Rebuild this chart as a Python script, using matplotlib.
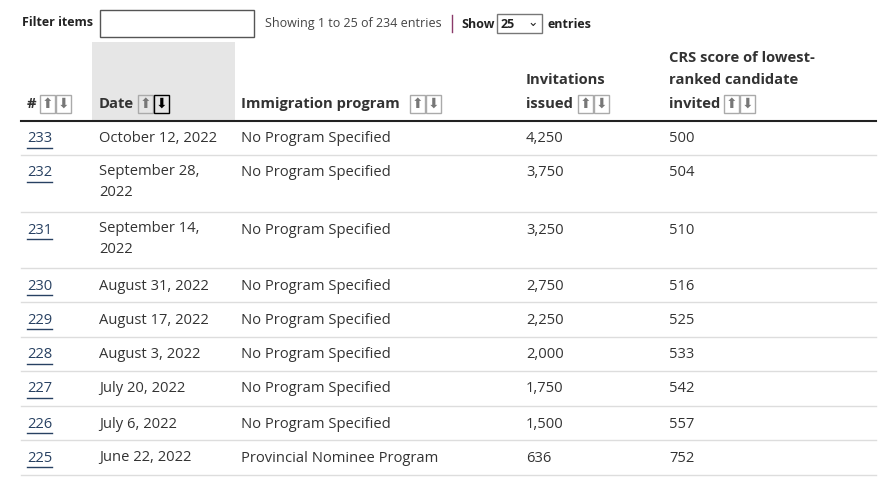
import matplotlib

matplotlib.use("Agg")
import matplotlib.pyplot as plt
from matplotlib.patches import Rectangle

plt.rcParams["font.family"] = ["Open Sans", "DejaVu Sans"]

# table data
row_ids = ["233", "232", "231", "230", "229", "228", "227", "226", "225"]
dates = ["October 12, 2022", "September 28,\n2022", "September 14,\n2022",
         "August 31, 2022", "August 17, 2022", "August 3, 2022",
         "July 20, 2022", "July 6, 2022", "June 22, 2022"]
programs = ["No Program Specified"] * 8 + ["Provincial Nominee Program"]
invitations = ["4,250", "3,750", "3,250", "2,750", "2,250", "2,000", "1,750", "1,500", "636"]
crs_scores = ["500", "504", "510", "516", "525", "533", "542", "557", "752"]

W, H = 895, 484
fig = plt.figure(figsize=(W / 100, H / 100), dpi=100)
ax = fig.add_axes([0, 0, 1, 1])
ax.set_xlim(0, W)
ax.set_ylim(H, 0)
ax.axis("off")

TXT = "#333333"
LINK = "#284162"
FS = 10.6


def sort_icons(x, y, active_down=False):
    for i, sym in enumerate(["⬆", "⬇"]):
        bx = x + i * 16
        act = active_down and i == 1
        ax.add_patch(Rectangle((bx, y - 9), 15, 18, fill=False,
                               ec="#000000" if act else "#aaaaaa", lw=1))
        ax.text(bx + 7.5, y, sym, ha="center", va="center", fontsize=10,
                color="#000000" if act else "#777777", family="DejaVu Sans")


# top controls
ax.text(22, 23, "Filter items", fontsize=9, fontweight="bold", va="center", color="#222222")
ax.add_patch(Rectangle((100, 10), 154, 27, fill=False, ec="#555555", lw=1))
ax.text(265, 24, "Showing 1 to 25 of 234 entries", fontsize=9, va="center", color="#444444")
ax.plot([452, 452], [15, 32], color="#8a3a6a", lw=1)
ax.text(461, 24, "Show", fontsize=9, fontweight="bold", va="center", color="#222222")
ax.add_patch(Rectangle((497, 14), 45, 19, fill=False, ec="#777777", lw=1))
ax.text(501, 24, "25", fontsize=9, fontweight="bold", va="center", color="#222222")
ax.text(533, 22, "⌄", fontsize=9, va="center", ha="center", color="#222222", family="DejaVu Sans")
ax.text(548, 24, "entries", fontsize=9, fontweight="bold", va="center", color="#222222")

# header
ax.add_patch(Rectangle((92, 42), 143, 79, color="#e6e6e6", lw=0))
hy = 104
ax.text(27, hy, "#", fontsize=FS, fontweight="bold", va="center", color=TXT)
sort_icons(40, hy)
ax.text(99, hy, "Date", fontsize=FS, fontweight="bold", va="center", color=TXT)
sort_icons(138, hy, active_down=True)
ax.text(241, hy, "Immigration program", fontsize=FS, fontweight="bold", va="center", color=TXT)
sort_icons(410, hy)
ax.text(526, 80, "Invitations", fontsize=FS, fontweight="bold", va="center", color=TXT)
ax.text(526, hy, "issued", fontsize=FS, fontweight="bold", va="center", color=TXT)
sort_icons(578, hy)
ax.text(669, 58, "CRS score of lowest-", fontsize=FS, fontweight="bold", va="center", color=TXT)
ax.text(669, 80, "ranked candidate", fontsize=FS, fontweight="bold", va="center", color=TXT)
ax.text(669, hy, "invited", fontsize=FS, fontweight="bold", va="center", color=TXT)
sort_icons(724, hy)
ax.plot([21, 876], [121, 121], color="#222222", lw=1.5)

# rows
row_tops = [139, 173, 230, 286, 320, 355, 389, 424, 458]
row_lines = [155, 212, 268, 302, 337, 371, 406, 440, 475]
for i, y in enumerate(row_tops):
    ax.text(27, y, row_ids[i], fontsize=FS, va="center", color=LINK)
    ax.plot([27, 52], [y + 9, y + 9], color=LINK, lw=1)
    if "\n" in dates[i]:
        ax.text(99, y - 9, dates[i], fontsize=FS, va="top", color=TXT, linespacing=1.55)
    else:
        ax.text(99, y, dates[i], fontsize=FS, va="center", color=TXT)
    ax.text(241, y, programs[i], fontsize=FS, va="center", color=TXT)
    ax.text(526, y, invitations[i], fontsize=FS, va="center", color=TXT)
    ax.text(669, y, crs_scores[i], fontsize=FS, va="center", color=TXT)
    ax.plot([21, 876], [row_lines[i], row_lines[i]], color="#dddddd", lw=1)

fig.savefig("out.png", dpi=100)
